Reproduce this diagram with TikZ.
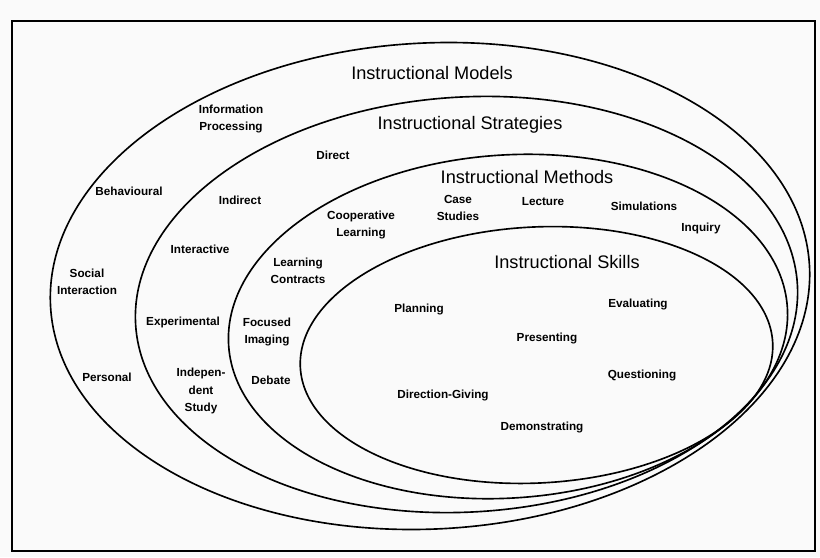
\documentclass[tikz,border=0pt]{standalone}
\usepackage{fontspec}
\setmainfont{Liberation Sans}
\tikzset{
  TitleStyle/.style = { inner sep=0pt,
                        font = \fontsize{15.5}{18}\selectfont },
  ItemStyle/.style  = { inner sep=0pt, align=center,
                        font = \fontsize{10}{15}\selectfont\bfseries },
  RingStyle/.style  = { line width=1.4pt },
  FrameStyle/.style = { line width=1.2pt } }
\begin{document}
\begin{tikzpicture}[x=0.03cm,y=-0.03cm]
  \useasboundingbox[fill=gray!4] (0,0) rectangle (820,557);
  \draw[FrameStyle] (12,21) rectangle (815,551);
  % rings, outer to inner
  \draw[RingStyle, rotate around={3:(430,286)}] (430,286) ellipse [x radius=380, y radius=243];
  \draw[RingStyle, rotate around={3.5:(466.5,304.5)}] (466.5,304.5) ellipse [x radius=331.5, y radius=207.5];
  \draw[RingStyle, rotate around={4:(508,326.5)}] (508,326.5) ellipse [x radius=280, y radius=171.5];
  \draw[RingStyle, rotate around={3:(536.5,355)}] (536.5,355) ellipse [x radius=236.5, y radius=128];
  \node[TitleStyle](M) at (432,73) {Instructional Models};
  \node[TitleStyle](S) at (470,125) {Instructional Strategies};
  \node[TitleStyle](Me) at (527,177) {Instructional Methods};
  \node[TitleStyle](Sk) at (567,262) {Instructional Skills};
  \node[ItemStyle](Info) at (231,119) {Information\\Processing};
  \node[ItemStyle](Beh) at (129,191) {Behavioural};
  \node[ItemStyle](Soc) at (87,282) {Social\\Interaction};
  \node[ItemStyle](Pers) at (107,377) {Personal};
  \node[ItemStyle](Dir) at (333,155) {Direct};
  \node[ItemStyle](Ind) at (240,200) {Indirect};
  \node[ItemStyle](Inter) at (200,249) {Interactive};
  \node[ItemStyle](Exp) at (183,322) {Experimental};
  \node[ItemStyle](Indep) at (201,391) {Indepen-\\dent\\Study};
  \node[ItemStyle](Coop) at (361,225) {Cooperative\\Learning};
  \node[ItemStyle](Case) at (458,208) {Case\\Studies};
  \node[ItemStyle](Lec) at (543,202) {Lecture};
  \node[ItemStyle](Sim) at (644,206) {Simulations};
  \node[ItemStyle](Inq) at (701,228) {Inquiry};
  \node[ItemStyle](Contr) at (298,271) {Learning\\Contracts};
  \node[ItemStyle](Foc) at (267,332) {Focused\\Imaging};
  \node[ItemStyle](Deb) at (271,380) {Debate};
  \node[ItemStyle](Plan) at (419,309) {Planning};
  \node[ItemStyle](Eval) at (638,304) {Evaluating};
  \node[ItemStyle](Pres) at (547,338) {Presenting};
  \node[ItemStyle](Ques) at (642,375) {Questioning};
  \node[ItemStyle](DirG) at (443,395) {Direction-Giving};
  \node[ItemStyle](Demo) at (542,427) {Demonstrating};
\end{tikzpicture}
\end{document}
